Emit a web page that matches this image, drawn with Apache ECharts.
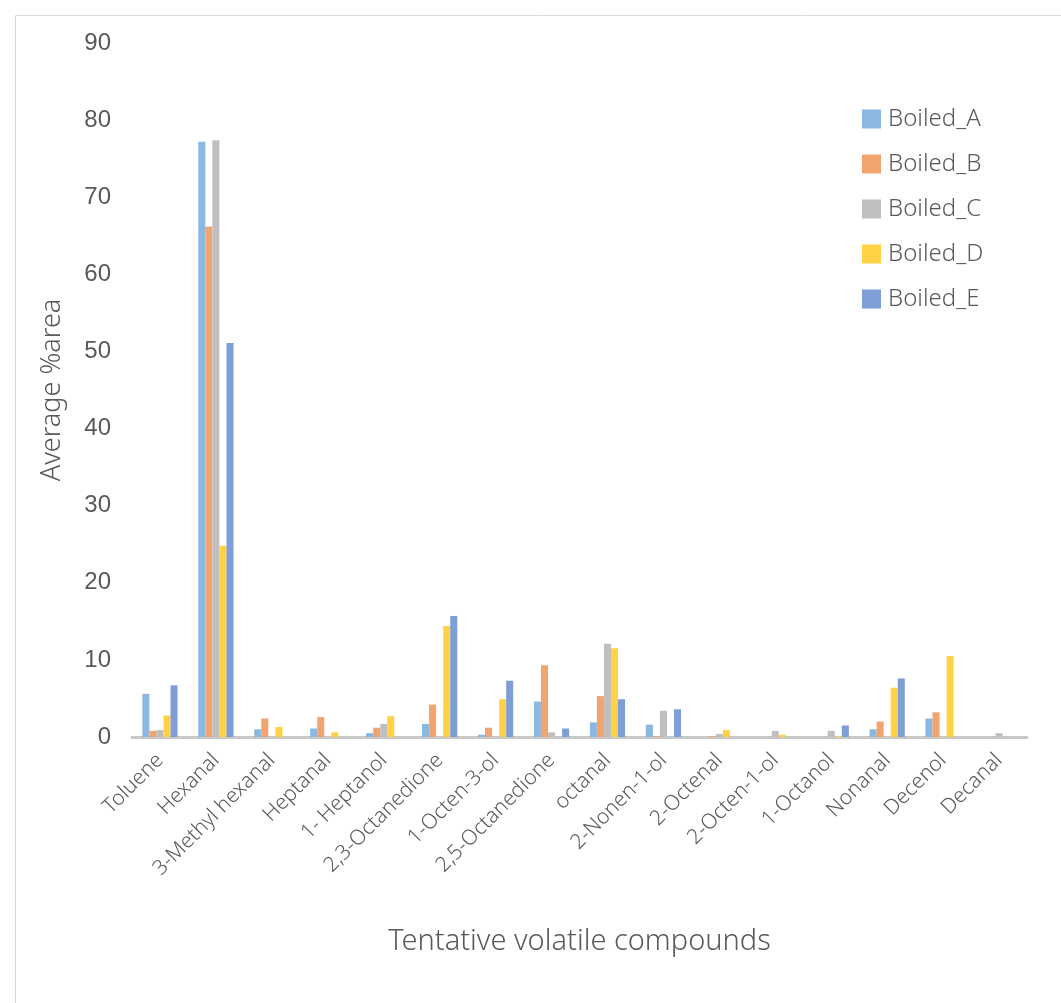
<!DOCTYPE html>
<html>
<head>
<meta charset="utf-8">
<script src="https://cdn.jsdelivr.net/npm/echarts@6/dist/echarts.min.js"></script>
<style>
  html, body { margin: 0; padding: 0; background: #fff; }
  #chart { width: 1061px; height: 1003px; }
</style>
</head>
<body>
<div id="chart"></div>
<script>
// Compounds on the category axis
const compounds = ['Toluene', 'Hexanal', '3-Methyl hexanal', 'Heptanal', '1- Heptanol',
  '2,3-Octanedione', '1-Octen-3-ol', '2,5-Octanedione', 'octanal', '2-Nonen-1-ol',
  '2-Octenal', '2-Octen-1-ol', '1-Octanol', 'Nonanal', 'Decenol', 'Decanal'];

// Average %area per boiling treatment
const boiledA = [5.6, 77.2, 1.0, 1.1, 0.5, 1.7, 0.3, 4.6, 1.9, 1.6, 0, 0, 0, 1.0, 2.4, 0];
const boiledB = [0.8, 66.2, 2.4, 2.6, 1.2, 4.2, 1.2, 9.3, 5.3, 0.1, 0.1, 0, 0, 2.0, 3.2, 0];
const boiledC = [0.9, 77.4, 0, 0, 1.7, 0, 0, 0.6, 12.1, 3.4, 0.4, 0.8, 0.8, 0, 0, 0.5];
const boiledD = [2.8, 24.8, 1.3, 0.6, 2.7, 14.4, 4.9, 0, 11.5, 0, 0.9, 0.3, 0.1, 6.4, 10.5, 0];
const boiledE = [6.7, 51.1, 0, 0, 0, 15.7, 7.3, 1.1, 4.9, 3.6, 0, 0, 1.5, 7.6, 0, 0];

// Y axis ticks
const yTicks = { min: 0, max: 90, interval: 10 };

const seriesNames = ['Boiled_A', 'Boiled_B', 'Boiled_C', 'Boiled_D', 'Boiled_E'];
const seriesData = [boiledA, boiledB, boiledC, boiledD, boiledE];
const palette = ['#8BB8E0', '#F2A46F', '#BFBFBF', '#FFD246', '#7E9ED6'];

const lightFont = "'Noto Sans', 'Open Sans', sans-serif";

const chart = echarts.init(document.getElementById('chart'), null, { renderer: 'canvas' });

chart.setOption({
  animation: false,
  backgroundColor: '#ffffff',
  color: palette,
  graphic: [{
    type: 'rect',
    left: 13, top: 13,
    shape: { width: 1100, height: 1100 },
    style: { fill: 'none', stroke: '#D9D9D9', lineWidth: 1 },
    silent: true, z: -1
  }],
  grid: { left: 132, right: 34, top: 43, bottom: 266, containLabel: false },
  legend: {
    orient: 'vertical',
    left: 857, top: 102,
    itemWidth: 19, itemHeight: 19,
    itemGap: 21,
    icon: 'rect',
    textStyle: { fontFamily: lightFont, fontWeight: 300, fontSize: 24, color: '#595959', padding: [0, 0, 0, 2] },
    data: seriesNames
  },
  xAxis: {
    type: 'category',
    data: compounds,
    name: 'Tentative volatile compounds',
    nameLocation: 'middle',
    nameGap: 190,
    nameTextStyle: { fontFamily: lightFont, fontWeight: 300, fontSize: 29, color: '#595959' },
    axisLine: { lineStyle: { color: '#C8C8C8', width: 3 } },
    axisTick: { show: false },
    axisLabel: {
      interval: 0, rotate: 45, margin: 20,
      fontFamily: lightFont, fontWeight: 300, fontSize: 21, color: '#595959'
    },
    splitLine: { show: false }
  },
  yAxis: {
    type: 'value',
    min: yTicks.min, max: yTicks.max, interval: yTicks.interval,
    name: 'Average %area',
    nameLocation: 'middle',
    nameGap: 66,
    nameTextStyle: { fontFamily: lightFont, fontWeight: 300, fontSize: 27, color: '#595959' },
    axisLine: { show: false },
    axisTick: { show: false },
    axisLabel: { fontFamily: "'Liberation Sans', Arial, sans-serif", fontSize: 24, color: '#595959', margin: 21 },
    splitLine: { show: false }
  },
  series: seriesData.map((d, i) => ({
    name: seriesNames[i],
    type: 'bar',
    data: d,
    barGap: '0%',
    barCategoryGap: '37%',
    itemStyle: { color: palette[i] }
  }))
});
</script>
</body>
</html>
